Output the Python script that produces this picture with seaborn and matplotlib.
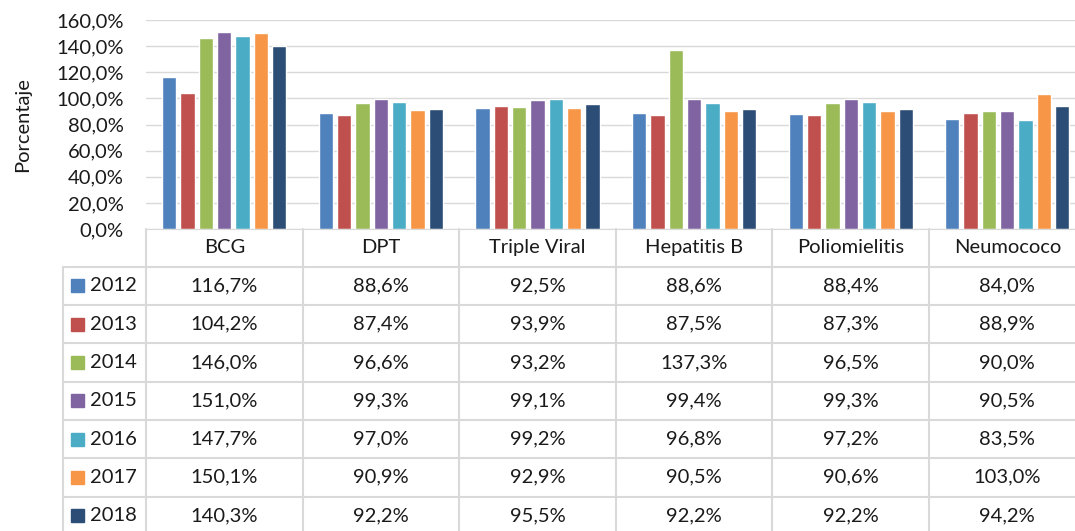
import pandas as pd
import matplotlib.pyplot as plt
import seaborn as sns

# Datos de cobertura de vacunación (%)
vacunas = ['BCG', 'DPT', 'Triple Viral', 'Hepatitis B', 'Poliomielitis', 'Neumococo']
anios = ['2012', '2013', '2014', '2015', '2016', '2017', '2018']
v2012 = [116.7, 88.6, 92.5, 88.6, 88.4, 84.0]
v2013 = [104.2, 87.4, 93.9, 87.5, 87.3, 88.9]
v2014 = [146.0, 96.6, 93.2, 137.3, 96.5, 90.0]
v2015 = [151.0, 99.3, 99.1, 99.4, 99.3, 90.5]
v2016 = [147.7, 97.0, 99.2, 96.8, 97.2, 83.5]
v2017 = [150.1, 90.9, 92.9, 90.5, 90.6, 103.0]
v2018 = [140.3, 92.2, 95.5, 92.2, 92.2, 94.2]
colores = ['#4F81BD', '#C0504D', '#9BBB59', '#8064A2', '#4BACC6', '#F79646', '#2C4D75']

series = [v2012, v2013, v2014, v2015, v2016, v2017, v2018]
filas = []
for anio, valores in zip(anios, series):
    for vac, val in zip(vacunas, valores):
        filas.append({'Vacuna': vac, 'Año': anio, 'Valor': val})
df = pd.DataFrame(filas)


def pct(v):
    return f'{v:.1f}%'.replace('.', ',')


sns.set_style('white')
plt.rcParams['font.family'] = ['Lato', 'DejaVu Sans']
fs = 14.5
txt = '#1a1a1a'

W, H = 1075, 531
fig = plt.figure(figsize=(W / 100, H / 100), dpi=100)

# Área del gráfico en píxeles
x0, ytop, ybot = 146, 20, 229
colw = 156.6
ax = fig.add_axes([x0 / W, 1 - ybot / H, 6 * colw / W, (ybot - ytop) / H])

sns.barplot(data=df, x='Vacuna', y='Valor', hue='Año', palette=colores,
            width=0.82, gap=0.22, saturation=1, legend=False, ax=ax)

ax.set_ylim(0, 160)
ax.set_xlim(-0.5, 5.5)
ticks = list(range(0, 161, 20))
ax.set_yticks(ticks)
ax.set_yticklabels([pct(t) for t in ticks], fontsize=fs, color=txt)
ax.set_xticks([])
ax.set_xlabel('')
ax.set_ylabel('Porcentaje', fontsize=fs, color=txt)
ax.yaxis.grid(True, color='#D9D9D9', linewidth=1)
ax.set_axisbelow(True)
for s in ['top', 'right', 'left']:
    ax.spines[s].set_visible(False)
ax.spines['bottom'].set_color('#D9D9D9')
ax.tick_params(axis='y', length=0, pad=16)
ax.yaxis.set_label_coords(-0.122, 0.5)

# Tabla de datos debajo del gráfico
gris = '#D9D9D9'
row_top = 266.7
row_h = 38.3
left_col = 63


def fx(px):
    return px / W


def fy(py):
    return 1 - py / H


# líneas verticales de columnas
for k in range(7):
    xp = x0 + k * colw
    fig.add_artist(plt.Line2D([fx(xp), fx(xp)], [fy(ybot), fy(H)], color=gris, lw=1.5))
fig.add_artist(plt.Line2D([fx(left_col), fx(left_col)], [fy(row_top), fy(H)], color=gris, lw=1.5))
# líneas horizontales
for i in range(len(anios) + 1):
    yp = row_top + i * row_h
    fig.add_artist(plt.Line2D([fx(left_col), 1.0], [fy(yp), fy(yp)], color=gris, lw=1.5))

# encabezados
for k, vac in enumerate(vacunas):
    cx = x0 + (k + 0.5) * colw
    fig.text(fx(cx), fy((ybot + row_top) / 2), vac, ha='center', va='center', fontsize=fs, color=txt)

# filas
for i, (anio, valores) in enumerate(zip(anios, series)):
    cy = row_top + (i + 0.5) * row_h
    fig.add_artist(plt.Rectangle((fx(71), fy(cy + 6.5)), 13 / W, 13 / H,
                                 color=colores[i], transform=fig.transFigure))
    fig.text(fx(90), fy(cy), anio, ha='left', va='center', fontsize=fs, color=txt)
    for k, val in enumerate(valores):
        cx = x0 + (k + 0.5) * colw
        fig.text(fx(cx), fy(cy), pct(val), ha='center', va='center', fontsize=fs, color=txt)

plt.savefig('out.png', dpi=100)
